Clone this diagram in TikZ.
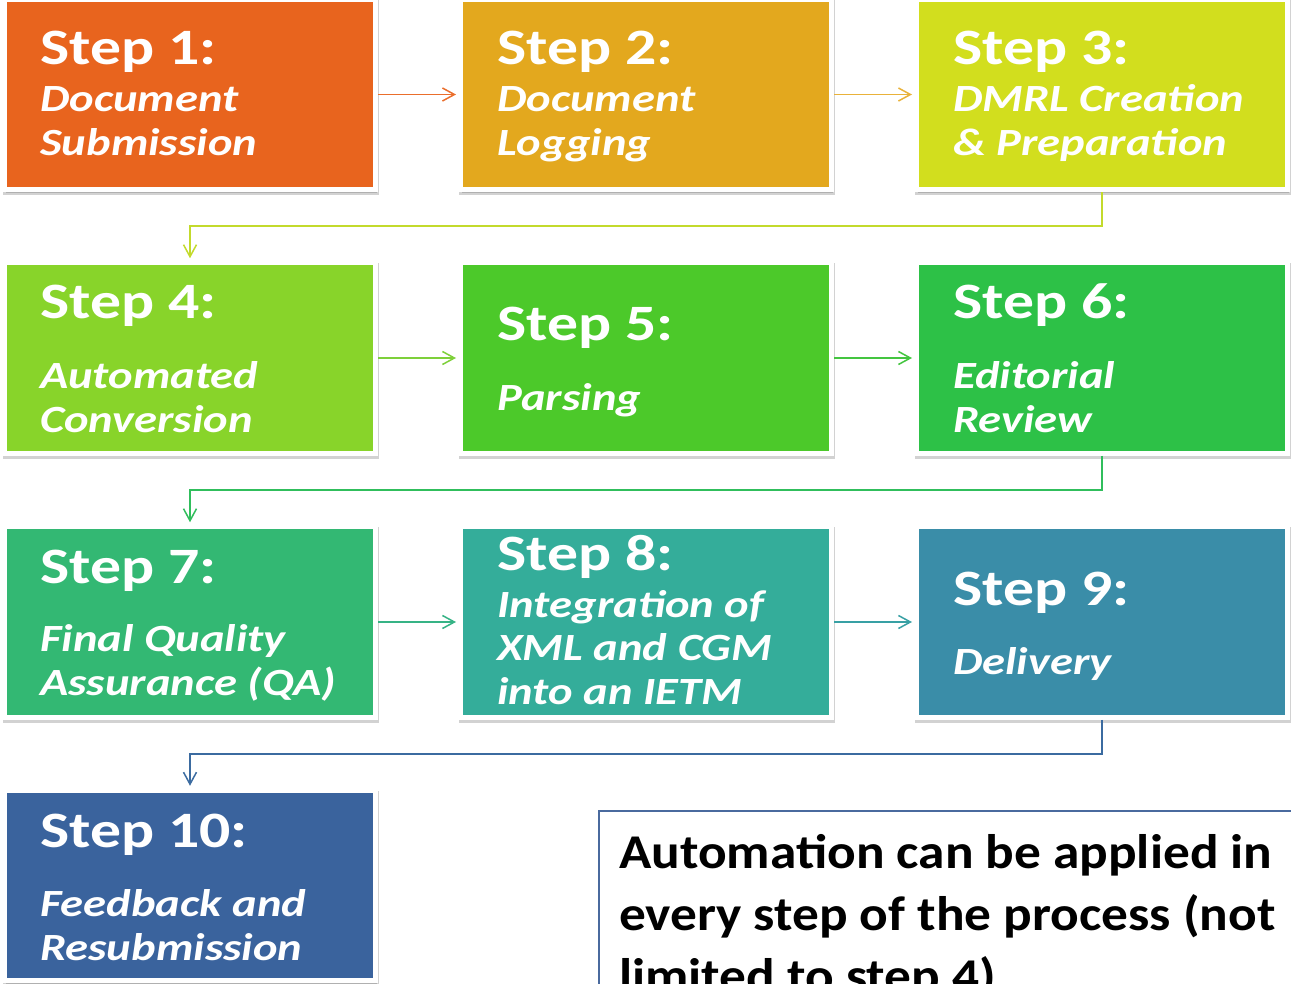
\documentclass[tikz,border=0pt]{standalone}
\usepackage{fontspec}
\setmainfont{Carlito}
\newfontfamily\boxfont[FakeStretch=1.21]{Carlito}
\newfontfamily\notefont[FakeStretch=1.10]{Carlito}
\usetikzlibrary{arrows.meta,shadows,calc}
\definecolor{c1}{HTML}{E8641E}
\definecolor{c2}{HTML}{E3A81E}
\definecolor{c3}{HTML}{D2DE1E}
\definecolor{c4}{HTML}{88D42A}
\definecolor{c5}{HTML}{4CC92A}
\definecolor{c6}{HTML}{2DC147}
\definecolor{c7}{HTML}{33B873}
\definecolor{c8}{HTML}{34AD9A}
\definecolor{c9}{HTML}{3A8DA8}
\definecolor{c10}{HTML}{3A639D}
\definecolor{a12}{HTML}{EA6E2C}
\definecolor{a23}{HTML}{E9B23A}
\definecolor{a34}{HTML}{C3DA2C}
\definecolor{a45}{HTML}{7ED03A}
\definecolor{a56}{HTML}{44C540}
\definecolor{a67}{HTML}{30BE5C}
\definecolor{a78}{HTML}{36B385}
\definecolor{a89}{HTML}{38A0A4}
\definecolor{a910}{HTML}{3B6BA0}
\definecolor{noteblue}{HTML}{4A6A9E}
\tikzset{
  stepbox/.style={rectangle, fill=#1, draw=white, line width=5pt,
    minimum width=371pt, minimum height=190.5pt, inner sep=0pt,
    drop shadow={shadow xshift=1pt, shadow yshift=-3pt, opacity=0.25,
      fill=black!70, draw=black!70, line width=5pt}},
  head/.style={anchor=base west, inner sep=0pt, text=white,
    font=\boxfont\bfseries\fontsize{51}{60}\selectfont},
  body/.style={anchor=base west, inner sep=0pt, text=white, align=left,
    font=\boxfont\bfseries\itshape\fontsize{38.5}{43.5}\selectfont},
  conn/.style={line width=1.5pt, draw=#1,
    -{Straight Barb[length=12pt,width=13pt,line width=1.5pt]}, shorten >=2pt},
}
\begin{document}
\begin{tikzpicture}[x=1pt,y=-1pt]
\useasboundingbox (0,0) rectangle (1291,984);
\clip (0,0) rectangle (1291,984);
% boxes
\node[stepbox=c1] (s1) at (190,94.5) {};
\node[stepbox=c2] (s2) at (646,94.5) {};
\node[stepbox=c3] (s3) at (1102,94.5) {};
\node[stepbox=c4] (s4) at (190,358) {};
\node[stepbox=c5] (s5) at (646,358) {};
\node[stepbox=c6] (s6) at (1102,358) {};
\node[stepbox=c7] (s7) at (190,622) {};
\node[stepbox=c8] (s8) at (646,622) {};
\node[stepbox=c9] (s9) at (1102,622) {};
\node[stepbox=c10] (s10) at (190,885.5) {};
% texts (body nodes are placed at the baseline of their last line)
\node[head] (h1) at (40,65) {Step 1:};
\node[body] (b1) at (40,155.5) {Document\\Submission};
\node[head] (h2) at (497,65) {Step 2:};
\node[body] (b2) at (497,155.5) {Document\\Logging};
\node[head] (h3) at (953,65) {Step 3:};
\node[body] (b3) at (953,155.5) {DMRL Creation\\\& Preparation};
\node[head] (h4) at (40,319) {Step 4:};
\node[body] (b4) at (40,432) {Automated\\Conversion};
\node[head] (h5) at (497,341) {Step 5:};
\node[body] (b5) at (497,410) {Parsing};
\node[head] (h6) at (953,319) {Step 6:};
\node[body] (b6) at (953,432) {Editorial\\Review};
\node[head] (h7) at (40,583) {Step 7:};
\node[body] (b7) at (40,695) {Final Quality\\Assurance (QA)};
\node[head] (h8) at (497,570) {Step 8:};
\node[body] (b8) at (497,704) {Integration of\\XML and CGM\\into an IETM};
\node[head] (h9) at (953,605) {Step 9:};
\node[body] (b9) at (953,674) {Delivery};
\node[head] (h10) at (40,847) {Step 10:};
\node[body] (b10) at (40,960) {Feedback and\\Resubmission};
% connectors
\draw[conn=a12] (s1.east) -- (s2.west);
\draw[conn=a23] (s2.east) -- (s3.west);
\draw[conn=a34] (s3.south) -- ++(0,34) -| (s4.north);
\draw[conn=a45] (s4.east) -- (s5.west);
\draw[conn=a56] (s5.east) -- (s6.west);
\draw[conn=a67] (s6.south) -- ++(0,34) -| (s7.north);
\draw[conn=a78] (s7.east) -- (s8.west);
\draw[conn=a89] (s8.east) -- (s9.west);
\draw[conn=a910] (s9.south) -- ++(0,34) -| (s10.north);
% note
\node[draw=noteblue, line width=1.5pt, anchor=north west, inner sep=0pt,
  minimum width=720pt, minimum height=220pt] (note) at (598,810) {};
\node[anchor=base west, inner sep=0pt, align=left,
  font=\notefont\bfseries\fontsize{48.5}{62}\selectfont] (nt) at (619,992)
  {Automation can be applied in\\every step of the process (not\\limited to step 4)};
\end{tikzpicture}
\end{document}
